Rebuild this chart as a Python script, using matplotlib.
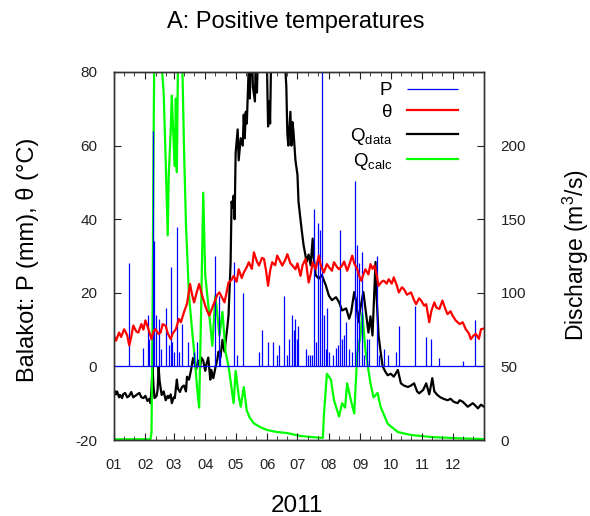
import matplotlib
matplotlib.use("Agg")
from matplotlib import pyplot as plt

plt.rcParams["font.family"] = ["Liberation Sans", "DejaVu Sans"]
plt.rcParams["mathtext.fontset"] = "custom"
plt.rcParams["mathtext.rm"] = "Liberation Sans"
plt.rcParams["mathtext.it"] = "Liberation Sans:italic"
plt.rcParams["axes.unicode_minus"] = False

# Data (day of year 2011)

month_start = [0, 31, 59, 90, 120, 151, 181, 212, 243, 273, 304, 334]
month_labels = ["01", "02", "03", "04", "05", "06", "07", "08", "09", "10", "11", "12"]

# precipitation at Balakot: (day, mm)
precip = [
    (15, 28), (29, 5), (34, 14), (35, 7.5), (38, 64), (39, 34), (41, 14), (44, 13),
    (46, 4.7), (51, 16), (54, 5.7), (56, 27), (57, 6.5), (59, 3.8), (62, 38), (64, 4),
    (67, 11.5), (73, 6.5), (79, 4), (82, 6.5), (100, 30), (104, 19), (105, 4),
    (118, 28.5), (121, 3), (127, 20), (143, 4), (146, 10), (152, 6.5), (157, 6.5),
    (161, 3), (163, 5.7), (168, 19), (171, 3), (173, 7.5), (176, 14), (178, 10),
    (179, 13), (181, 7.5), (182, 11), (189, 4.7), (191, 3), (193, 3), (195, 3),
    (197, 42.7), (199, 6.5), (201, 39), (203, 37), (205, 85), (207, 14), (209, 4.7),
    (210, 16), (212, 3.8), (216, 3), (219, 5), (221, 5.7), (223, 37), (225, 7.5),
    (227, 8.5), (229, 12), (232, 4.7), (235, 3.8), (238, 50.5), (240, 33), (242, 28),
    (245, 31), (247, 3), (250, 7.5), (252, 7.5), (259, 30), (261, 3), (266, 4.7),
    (270, 3), (278, 3.8), (281, 11), (297, 16.5), (308, 8), (313, 7.5), (321, 2.4),
    (344, 1.5), (356, 12.5),
]

# temperature: (day, deg C)
theta = [
    (0, 8.3), (2, 7.0), (5, 9.2), (7, 8.0), (10, 10.1), (13, 8.5), (15, 5.7), (17, 8.0),
    (19, 11.1), (22, 9.5), (24, 9.2), (27, 11.5), (29, 10.0), (31, 12.5), (34, 10.1),
    (37, 7.4), (39, 9.5), (41, 10.1), (44, 8.8), (46, 9.2), (48, 11.5), (51, 11.0),
    (53, 9.0), (56, 7.4), (58, 9.0), (61, 10.1), (64, 12.9), (66, 12.0), (69, 14.7),
    (72, 17.0), (75, 22.4), (77, 19.5), (79, 17.4), (82, 20.5), (84, 22.4), (87, 19.2),
    (90, 16.5), (92, 15.0), (94, 13.8), (97, 16.0), (99, 17.4), (102, 19.5), (104, 20.1),
    (107, 18.5), (109, 17.4), (111, 20.0), (113, 22.8), (116, 23.5), (118, 24.6),
    (121, 23.0), (123, 26.4), (126, 24.0), (128, 25.5), (131, 27.0), (133, 28.3),
    (136, 26.5), (138, 31.0), (141, 28.5), (143, 27.4), (146, 29.5), (148, 29.2),
    (150, 26.0), (152, 21.9), (154, 26.0), (156, 28.3), (159, 27.5), (161, 30.1),
    (164, 28.5), (166, 27.4), (169, 29.0), (171, 30.5), (174, 28.0), (176, 27.4),
    (179, 26.4), (181, 28.0), (184, 24.6), (186, 27.5), (189, 29.2), (192, 22.8),
    (194, 25.0), (196, 28.3), (199, 26.4), (202, 30.1), (204, 27.5), (207, 25.5),
    (210, 27.8), (212, 27.0), (215, 26.0), (217, 28.3), (220, 27.0), (222, 26.4),
    (225, 27.4), (227, 28.5), (230, 26.0), (232, 27.5), (235, 30.1), (237, 28.0),
    (240, 26.4), (242, 24.5), (244, 23.3), (246, 25.0), (248, 26.4), (251, 25.0),
    (253, 27.8), (255, 26.5), (257, 27.4), (259, 25.0), (261, 21.9), (264, 23.0),
    (266, 23.3), (269, 22.5), (271, 23.7), (274, 22.5), (276, 24.2), (279, 22.0),
    (281, 20.1), (284, 21.5), (286, 21.0), (289, 19.5), (293, 20.1), (296, 18.0),
    (298, 16.9), (301, 18.5), (303, 17.9), (306, 16.5), (308, 16.9), (311, 12.0),
    (313, 15.0), (316, 17.4), (318, 16.0), (321, 15.6), (324, 17.9), (327, 15.5),
    (329, 14.2), (332, 15.0), (334, 13.8), (337, 12.5), (341, 11.5), (344, 12.0),
    (347, 10.1), (350, 9.0), (352, 7.4), (355, 8.5), (357, 8.8), (360, 7.5),
    (362, 10.1), (365, 10.3),
]

# measured discharge: (day, m3/s)
q_data = [
    (0, 34), (2, 31), (3, 33), (5, 29), (6, 30.6), (8, 28.5), (9, 31), (11, 32), (13, 29),
    (15, 30), (17, 32.6), (19, 29), (21, 30), (23, 31), (25, 32), (27, 29), (29, 28.5),
    (31, 30), (33, 26.5), (35, 28), (36, 25), (37, 35), (38, 49.6), (39, 36), (40, 28.5),
    (42, 30), (43, 34), (44, 49.6), (45, 40), (47, 30.6), (49, 33), (51, 27), (53, 30),
    (54, 28.5), (56, 31), (57, 25), (59, 29), (60, 28.5), (62, 41), (63, 35), (65, 32.6),
    (67, 36), (69, 37), (71, 33), (72, 43), (74, 41), (76, 47.6), (78, 55.7), (80, 51),
    (81, 48), (83, 54), (85, 49), (86, 56), (88, 54), (90, 47), (91, 51), (93, 56),
    (95, 41), (96, 47.6), (98, 42), (100, 49), (102, 55), (103, 60), (105, 56), (107, 68),
    (109, 60), (110, 66), (111, 72), (112, 78), (113, 85), (114, 102), (115, 120),
    (116, 162), (117, 158), (118, 166), (119, 150), (120, 195), (122, 211), (123, 190),
    (125, 205), (127, 200), (128, 221), (129, 205), (130, 223), (131, 215), (132, 235),
    (133, 255), (134, 232), (135, 262), (136, 270), (137, 240), (139, 230), (140, 265),
    (141, 236), (143, 290), (146, 280), (149, 270), (151, 250), (152, 213), (153, 230),
    (154, 215), (155, 260), (156, 290), (158, 280), (161, 300), (163, 280), (166, 260),
    (168, 265), (170, 240), (171, 208), (172, 200), (173, 212), (174, 223), (175, 200),
    (176, 216), (177, 210), (178, 200), (179, 190), (181, 180), (182, 162), (185, 143.5),
    (187, 132.5), (190, 121), (192, 126), (194, 118.7), (196, 136.8), (197, 124),
    (199, 112), (202, 109.6), (205, 112), (209, 105), (212, 98), (215, 95), (219, 97),
    (222, 93.7), (225, 88), (229, 89.4), (232, 82.4), (234, 86.9), (237, 100.5),
    (239, 93.7), (241, 80), (243, 89.4), (246, 100.5), (248, 89.4), (251, 73), (253, 84),
    (255, 71), (258, 121), (259, 98), (261, 71), (263, 60), (265, 50), (268, 46),
    (270, 44), (273, 45), (276, 43), (280, 47.6), (283, 38.5), (286, 37), (290, 36),
    (293, 37), (296, 38.5), (299, 33), (301, 31.7), (305, 34), (308, 38.5), (311, 31),
    (314, 42), (316, 33), (319, 30.6), (322, 29), (325, 28), (329, 27), (332, 28),
    (335, 26), (339, 25), (341, 27), (344, 26), (347, 24), (349, 22.6), (352, 24),
    (354, 25), (357, 23), (359, 21.5), (362, 24), (365, 22.6),
]

# computed discharge: (day, m3/s)
q_calc = [
    (0, 0.5), (36, 0.5), (37, 5), (38, 80), (39, 200), (40, 280), (44, 300), (46, 270),
    (47, 255), (49, 236), (51, 189), (53, 139), (54, 180), (56, 211), (57, 234), (59, 200),
    (60, 186), (61, 232), (62, 182), (63, 250), (64, 290), (66, 300), (67, 270), (69, 200),
    (71, 146), (74, 98), (77, 75), (80, 53), (82, 35), (84, 22), (86, 90), (88, 168),
    (90, 112), (94, 85), (97, 64), (100, 98), (104, 71), (107, 87), (110, 60), (113, 50),
    (116, 35), (118, 25), (120, 47), (123, 30), (125, 22.6), (128, 36), (131, 20),
    (134, 15), (138, 11.3), (145, 8.5), (151, 6.8), (160, 5.5), (171, 4.7), (184, 2.7),
    (195, 2), (205, 1.5), (206, 1.5), (207, 16), (210, 45), (214, 41), (217, 27),
    (222, 16), (225, 25), (228, 22), (230, 38.5), (233, 29), (237, 18), (240, 59),
    (243, 70), (245, 86), (248, 61), (253, 38.5), (256, 29), (260, 32), (263, 22.6),
    (270, 11), (280, 5.4), (293, 3.4), (313, 2), (339, 1.2), (365, 0.6),
]

p_day = [d for d, _ in precip]
p_mm = [v for _, v in precip]
t_day = [d for d, _ in theta]
t_val = [v for _, v in theta]
qd_day = [d for d, _ in q_data]
qd_val = [v for _, v in q_data]
qc_day = [d for d, _ in q_calc]
qc_val = [v for _, v in q_calc]

# Plot

fig = plt.figure(figsize=(5.9, 5.16), dpi=100)
ax = fig.add_axes([114 / 590, 76 / 516, 370 / 590, 368 / 516])
ax2 = ax.twinx()

ax.set_zorder(ax2.get_zorder() + 1)
ax.patch.set_visible(False)

ax.vlines(p_day, 0, p_mm, color="#0000ff", lw=0.9, label="P")
ax.axhline(0, color="#0000ff", lw=0.9)
ax.plot(t_day, t_val, color="#ff0000", lw=1.6, label="θ")

ax2.plot(qd_day, qd_val, color="black", lw=1.6)
ax2.plot(qc_day, qc_val, color="#00ff00", lw=1.6)

# legend handles for the discharge lines live on the left axes
ax.plot([], [], color="black", lw=1.6, label=r"Q$_{\mathrm{data}}$")
ax.plot([], [], color="#00ff00", lw=1.6, label=r"Q$_{\mathrm{calc}}$")

ax.set_xlim(0, 365)
ax.set_ylim(-20, 80)
ax2.set_ylim(0, 250)

ax.set_xticks(month_start)
ax.set_xticklabels(month_labels)
minor = [m + k for m in month_start for k in (10, 20)]
ax.set_xticks(minor, minor=True)
ax.set_yticks([-20, 0, 20, 40, 60, 80])
ax2.set_yticks([0, 50, 100, 150, 200])

ax.tick_params(axis="x", which="both", direction="in", top=True, pad=13,
               labelsize=10.5, colors="#222222")
ax.tick_params(axis="x", which="major", length=5)
ax.tick_params(axis="x", which="minor", length=3)
ax.tick_params(axis="y", direction="in", length=5, pad=12, labelsize=11,
               colors="#222222", right=False)
ax2.tick_params(axis="y", direction="in", length=5, pad=12, labelsize=11,
                colors="#222222")

for a in (ax, ax2):
    for s in a.spines.values():
        s.set_color("#333333")
        s.set_linewidth(1.0)

leg = ax.legend(loc="upper right", bbox_to_anchor=(0.93, 0.972), frameon=False,
                markerfirst=False, fontsize=13.5, handlelength=2.7,
                handletextpad=0.8, labelspacing=0.24, borderaxespad=0,
                borderpad=0)
for t in leg.get_texts():
    t.set_ha("right")

fig.text(296 / 590, 1 - 22 / 516, "A: Positive temperatures", ha="center",
         va="center", fontsize=17)
fig.text(297 / 590, 1 - 506 / 516, "2011", ha="center", va="center", fontsize=17.5)
fig.text(28 / 590, 1 - 260 / 516, "Balakot: P (mm), θ (°C)", ha="center",
         va="center", rotation=90, fontsize=17)
fig.text(576 / 590, 1 - 255 / 516, "Discharge (m$^3$/s)", ha="center",
         va="center", rotation=90, fontsize=16.5)

fig.savefig("out.png", dpi=100)
